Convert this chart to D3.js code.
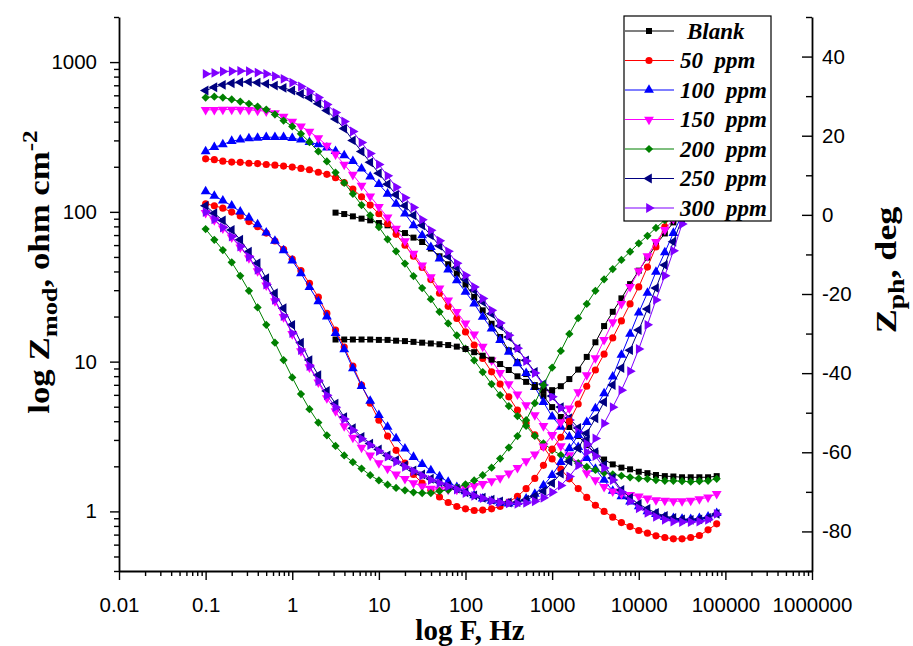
<!DOCTYPE html>
<html><head><meta charset="utf-8">
<script src="https://cdn.jsdelivr.net/npm/d3@7"></script>
<style>body{margin:0;background:#fff}svg{display:block}</style>
</head><body>
<svg id="c" width="913" height="646"></svg>
<script>
// ---------- DATA ----------
const freq = [0.1,0.126,0.158,0.2,0.251,0.316,0.398,0.501,0.631,0.794,
 1,1.26,1.58,2,2.51,3.16,3.98,5.01,6.31,7.94,
 10,12.6,15.8,20,25.1,31.6,39.8,50.1,63.1,79.4,
 100,126,158,200,251,316,398,501,631,794,
 1000,1260,1580,2000,2510,3160,3980,5010,6310,7940,
 10000,12600,15800,20000,25100,31600,39800,50100,63100,79400];
const blankFreq = freq.slice(15);

const seriesNames = ["Blank","50  ppm","100  ppm","150  ppm","200  ppm","250  ppm","300  ppm"];
const xTicks = [0.01,0.1,1,10,100,1000,10000,100000,1000000];
const yLeftTicks = [1,10,100,1000];
const yRightTicks = [-80,-60,-40,-20,0,20,40];

const modBlank = [98.8,96.7,93.3,90.1,87.8,84.2,81.3,76.4,72.2,67.3,62.9,56.9,50.5,44.7,38.7,32.7,27.0,22.0,17.9,14.6,11.9,9.93,8.26,6.97,5.89,4.97,4.27,3.66,3.19,2.77,2.45,2.22,2.06,1.96,1.91,1.84,1.80,1.75,1.72,1.71,1.69,1.69,1.69,1.69,1.72];
const phBlank = [-31.5,-31.5,-31.5,-31.5,-31.5,-31.6,-31.6,-31.8,-31.9,-32.1,-32.3,-32.5,-32.7,-32.9,-33.3,-33.9,-34.7,-35.6,-36.6,-37.7,-39.2,-40.8,-42.2,-43.5,-44.3,-44.3,-43.3,-41.5,-39.1,-35.9,-32.2,-28.1,-24.5,-21.1,-17.5,-14.1,-10.8,-7.6,-4.7,-1.9,0.8,3.3,5.8,8.1,10.1];

const mod50 = [226,223,218,215,214,211,210,207,205,202,
 199,195,191,184,178,169,157,142,126,111,
 97.2,83.4,70.8,59.8,50.5,42.5,35.3,28.6,23.4,19.4,
 15.8,12.9,10.5,8.55,7.08,5.82,4.75,3.89,3.24,2.69,
 2.24,1.92,1.65,1.42,1.24,1.10,1.00,0.915,0.842,0.792,
 0.745,0.716,0.687,0.669,0.656,0.656,0.669,0.690,0.753,0.826];
const ph50 = [2.8,2.3,1.7,0.7,-0.3,-1.7,-3.0,-4.6,-6.6,-8.7,
 -11.2,-14.1,-17.3,-20.8,-24.9,-29.1,-33.4,-38.2,-43.0,-47.6,
 -51.9,-55.9,-59.5,-62.7,-65.6,-67.8,-69.6,-71.3,-72.7,-73.7,
 -74.3,-74.7,-74.6,-74.3,-73.7,-72.6,-71.1,-69.2,-66.6,-63.3,
 -59.2,-56.2,-52.2,-47.8,-43.3,-39.2,-35.2,-31.1,-26.8,-22.5,
 -18.2,-13.2,-8.1,-3.0,1.8,6.3,10.6,14.7,18.5,22.0];

const mod100 = [253,270,282,297,303,309,312,315,315,315,
 310,303,292,282,268,254,238,218,194,172,
 153,132,113,97.2,81.3,69.7,58.2,48.7,41.2,34.9,
 29.2,24.4,19.9,16.6,13.9,11.6,9.72,8.38,6.76,5.37,
 4.29,3.67,3.15,2.68,2.27,1.92,1.62,1.37,1.26,1.16,
 1.08,1.00,0.958,0.915,0.901,0.891,0.887,0.901,0.923,0.973];
const ph100 = [5.9,4.8,3.6,2.3,0.8,-0.7,-2.4,-4.5,-6.6,-9.0,
 -11.6,-14.8,-18.3,-21.9,-25.7,-29.9,-34.0,-38.8,-43.3,-47.0,
 -50.6,-53.6,-56.5,-59.1,-61.2,-63.0,-64.6,-66.1,-67.5,-68.8,
 -69.9,-70.9,-71.7,-72.3,-72.8,-73.0,-72.6,-71.7,-70.5,-68.4,
 -65.8,-62.5,-59.0,-55.7,-52.4,-48.9,-45.1,-40.9,-35.4,-30.1,
 -24.7,-19.7,-14.4,-9.5,-4.6,0.0,4.6,8.9,12.9,16.5];

const mod150 = [480,480,482,482,482,480,475,470,456,433,
 401,372,344,311,277,242,207,177,150,127,
 108,91.9,77.3,63.8,52.6,44.0,36.7,30.8,25.7,21.5,
 18.0,15.2,12.6,10.2,8.42,7.08,6.04,5.13,4.40,3.72,
 3.24,2.73,2.38,2.10,1.80,1.62,1.46,1.36,1.31,1.29,
 1.26,1.22,1.19,1.18,1.17,1.17,1.18,1.21,1.24,1.31];
const ph150 = [0.5,-1.3,-3.4,-5.7,-8.2,-10.9,-14.2,-17.8,-21.8,-25.8,
 -30.1,-34.4,-38.5,-42.3,-46.3,-49.6,-53.4,-56.3,-58.8,-60.8,
 -62.7,-64.1,-65.6,-66.7,-67.8,-68.6,-69.2,-69.4,-69.4,-69.4,
 -69.0,-68.5,-68.0,-67.3,-66.5,-65.3,-63.9,-62.2,-60.5,-58.5,
 -55.7,-52.4,-48.9,-44.8,-40.5,-36.2,-31.6,-27.1,-22.5,-18.2,
 -14.2,-10.4,-6.8,-3.8,-1.0,2.0,4.8,7.3,9.9,12.2];

const mod200 = [580,588,580,563,545,527,505,482,447,407,
 372,332,292,253,217,183,156,132,111,94.8,
 79.2,65.6,54.5,45.2,37.3,31.0,26.1,21.5,18.0,15.0,
 12.2,10.2,8.51,7.08,5.98,5.05,4.33,3.72,3.19,2.85,
 2.57,2.38,2.23,2.10,1.98,1.89,1.81,1.77,1.73,1.69,
 1.66,1.65,1.62,1.60,1.60,1.59,1.58,1.59,1.60,1.65];
const ph200 = [-3.6,-6.3,-8.9,-12.0,-15.4,-19.2,-23.4,-27.8,-32.3,-36.7,
 -41.1,-45.3,-49.1,-52.5,-55.7,-58.4,-60.8,-62.5,-64.1,-65.8,
 -67.1,-68.2,-69.0,-69.6,-70.1,-70.3,-70.3,-69.8,-69.5,-68.9,
 -68.1,-67.1,-65.8,-63.9,-61.6,-58.8,-55.9,-51.9,-47.6,-43.0,
 -38.6,-34.4,-30.1,-26.1,-22.5,-19.2,-16.3,-13.7,-11.4,-9.3,
 -7.2,-5.3,-3.3,-1.3,0.5,2.0,3.5,5.1,6.3,7.6];

const mod250 = [646,679,705,722,733,738,730,716,697,673,
 646,614,577,528,475,417,360,300,253,214,
 181,153,130,110,94.8,81.3,69.7,59.3,50.5,42.5,
 35.3,30.0,25.1,20.9,17.3,14.6,12.2,10.2,8.55,7.08,
 5.89,4.97,4.20,3.61,3.00,2.49,2.04,1.67,1.39,1.23,
 1.12,1.04,0.977,0.933,0.905,0.885,0.878,0.885,0.905,0.962];
const ph250 = [2.3,0.4,-1.4,-3.8,-6.3,-9.3,-12.2,-16.0,-19.8,-23.6,
 -27.8,-32.3,-36.7,-40.5,-44.5,-47.7,-51.1,-53.9,-56.1,-57.8,
 -59.3,-60.8,-62.0,-63.3,-64.6,-65.6,-66.7,-67.6,-68.4,-69.2,
 -70.1,-70.9,-71.5,-72.0,-72.4,-72.7,-72.6,-72.0,-71.1,-69.8,
 -67.8,-65.4,-62.3,-59.0,-55.2,-51.4,-47.3,-43.0,-38.7,-34.2,
 -29.1,-23.8,-18.5,-12.7,-6.8,-1.0,4.3,9.4,13.9,18.0];

const mod300 = [834,847,865,869,873,869,851,834,804,773,
 730,687,636,580,521,460,401,344,290,245,
 207,174,146,124,107,88.7,75.3,64.1,54.5,45.4,
 37.7,31.5,26.4,22.0,18.1,15.0,12.3,10.1,8.38,6.97,
 5.82,4.90,4.07,3.39,2.82,2.34,1.95,1.62,1.35,1.17,
 1.05,0.977,0.919,0.878,0.855,0.848,0.848,0.855,0.878,0.962];
const ph300 = [0.7,-1.1,-3.2,-5.5,-8.0,-10.6,-13.9,-17.6,-21.5,-25.6,
 -29.9,-34.2,-38.2,-42.0,-45.6,-48.6,-51.6,-54.4,-56.6,-58.2,
 -59.7,-61.1,-62.4,-63.7,-64.8,-65.9,-67.0,-67.8,-68.6,-69.4,
 -70.3,-71.0,-71.6,-72.3,-72.7,-72.9,-73.0,-72.8,-72.4,-71.5,
 -70.1,-68.4,-66.1,-63.3,-60.0,-56.5,-52.7,-48.6,-44.3,-39.5,
 -33.9,-27.8,-21.5,-15.4,-9.1,-2.3,4.3,10.4,15.9,21.0];

// ---------- STYLE ----------
const styles = [
  {color:"#000000", sym:"square"},
  {color:"#ff0000", sym:"circle"},
  {color:"#0000ff", sym:"up"},
  {color:"#ff00ff", sym:"down"},
  {color:"#008000", sym:"diamond"},
  {color:"#000080", sym:"left"},
  {color:"#8000ff", sym:"right"}
];
const series = [
  {f: blankFreq, mod: modBlank, ph: phBlank},
  {f: freq, mod: mod50, ph: ph50},
  {f: freq, mod: mod100, ph: ph100},
  {f: freq, mod: mod150, ph: ph150},
  {f: freq, mod: mod200, ph: ph200},
  {f: freq, mod: mod250, ph: ph250},
  {f: freq, mod: mod300, ph: ph300}
].map((s,i)=>Object.assign(s, styles[i], {name: seriesNames[i]}));

// ---------- CHART ----------
const M = {l:119, r:812, t:17, b:571};
const svg = d3.select("#c");
const x = d3.scaleLog().domain([0.01,1e6]).range([M.l,M.r]);
const yL = d3.scaleLog().domain([0.4,2000]).range([M.b,M.t]);
const yR = d3.scaleLinear().domain([-90,50]).range([M.b,M.t]);

function symPath(type){
  const g = d3.symbol();
  if(type==="square") return {d:g.type(d3.symbolSquare).size(36)(), rot:0};
  if(type==="circle") return {d:g.type(d3.symbolCircle).size(40)(), rot:0};
  if(type==="diamond") return {d:g.type(d3.symbolSquare).size(34)(), rot:45};
  const t = g.type(d3.symbolTriangle).size(42)();
  return {d:t, rot: type==="up"?0: type==="down"?180: type==="left"?-90:90};
}

const sansFont = "'Liberation Sans', Arial, sans-serif";
const serifFont = "'Liberation Serif', 'Times New Roman', serif";

function minorVals(lo, hi){
  const out=[];
  for(let e=-3;e<=7;e++){
    for(let m=2;m<=9;m++){
      const v = m*Math.pow(10,e);
      if(v>=lo*0.999 && v<=hi*1.001) out.push(v);
    }
  }
  return out;
}

// x axis
const gx = svg.append("g").attr("transform",`translate(0,${M.b})`);
gx.call(d3.axisBottom(x).tickValues(xTicks).tickFormat(d=>String(d)).tickSizeInner(9).tickSizeOuter(0).tickPadding(17));
const gxm = svg.append("g").attr("transform",`translate(0,${M.b})`);
gxm.call(d3.axisBottom(x).tickValues(minorVals(0.01,1e6)).tickFormat("").tickSizeInner(5).tickSizeOuter(0));
gxm.select(".domain").remove();

// left axis
const gy = svg.append("g").attr("transform",`translate(${M.l},0)`);
gy.call(d3.axisLeft(yL).tickValues(yLeftTicks).tickFormat(d=>String(d)).tickSizeInner(9).tickSizeOuter(0).tickPadding(13));
const gym = svg.append("g").attr("transform",`translate(${M.l},0)`);
gym.call(d3.axisLeft(yL).tickValues(minorVals(0.4,2000)).tickFormat("").tickSizeInner(5).tickSizeOuter(0));
gym.select(".domain").remove();

// right axis (ticks inward)
const gr = svg.append("g").attr("transform",`translate(${M.r},0)`);
gr.call(d3.axisRight(yR).tickValues(yRightTicks).tickFormat(d=>String(d)).tickSizeInner(-10).tickSizeOuter(0).tickPadding(10));
const grm = svg.append("g").attr("transform",`translate(${M.r},0)`);
grm.call(d3.axisRight(yR).tickValues([-90,-70,-50,-30,-10,10,30,50]).tickFormat("").tickSizeInner(-6).tickSizeOuter(0));
grm.select(".domain").remove();

svg.selectAll(".domain").attr("stroke","#000").attr("stroke-width",1.8);
svg.selectAll(".tick line").attr("stroke","#000").attr("stroke-width",1.4);
svg.selectAll(".tick text").attr("font-family",sansFont).attr("font-size",20.5).attr("fill","#000");

// data
const plot = svg.append("g");
function drawCurve(s, key, yScale){
  const pts = s.f.map((f,i)=>[x(f), yScale(s[key][i])]);
  plot.append("path").attr("d", d3.line()(pts)).attr("fill","none")
    .attr("stroke", s.color).attr("stroke-width",1);
  const sp = symPath(s.sym);
  plot.append("g").selectAll("path").data(pts).join("path")
    .attr("d", sp.d)
    .attr("transform", p=>`translate(${p[0]},${p[1]}) rotate(${sp.rot})`)
    .attr("fill", s.color);
}
series.forEach(s=>drawCurve(s,"mod",yL));
series.forEach(s=>drawCurve(s,"ph",yR));

// legend
const lg = svg.append("g");
lg.append("rect").attr("x",624).attr("y",16).attr("width",147).attr("height",205)
  .attr("fill","#fff").attr("stroke","#000").attr("stroke-width",1.2);
series.forEach((s,i)=>{
  const yy = 31 + i*29.5;
  lg.append("line").attr("x1",625).attr("x2",674).attr("y1",yy).attr("y2",yy)
    .attr("stroke",s.color).attr("stroke-width",1.2);
  const sp = symPath(s.sym);
  lg.append("path").attr("d",sp.d).attr("transform",`translate(649,${yy}) rotate(${sp.rot})`).attr("fill",s.color);
  lg.append("text").attr("x", i===0?687:680).attr("y", yy+7.5)
    .attr("font-family",serifFont).attr("font-weight","bold").attr("font-style","italic")
    .attr("font-size",23).style("white-space","pre").text(s.name);
});

// axis titles
svg.append("text").attr("x",470).attr("y",640).attr("text-anchor","middle")
  .attr("font-family",serifFont).attr("font-weight","bold").attr("font-size",29).text("log F, Hz");

const lt = svg.append("text").attr("transform","translate(49,272) rotate(-90) scale(1.2,1)").attr("text-anchor","middle")
  .attr("font-family",serifFont).attr("font-weight","bold").attr("font-size",29);
lt.append("tspan").text("log Z");
lt.append("tspan").attr("dy",8).attr("font-size",22).text("mod");
lt.append("tspan").attr("dy",-8).text(", ohm cm");
lt.append("tspan").attr("dy",-12).attr("font-size",21).text("-2");

const rt = svg.append("text").attr("transform","translate(896,270) rotate(-90) scale(1.2,1)").attr("text-anchor","middle")
  .attr("font-family",serifFont).attr("font-weight","bold").attr("font-size",30);
rt.append("tspan").text("Z");
rt.append("tspan").attr("dy",8).attr("font-size",23).text("ph");
rt.append("tspan").attr("dy",-8).text(", deg");
</script>
</body></html>
